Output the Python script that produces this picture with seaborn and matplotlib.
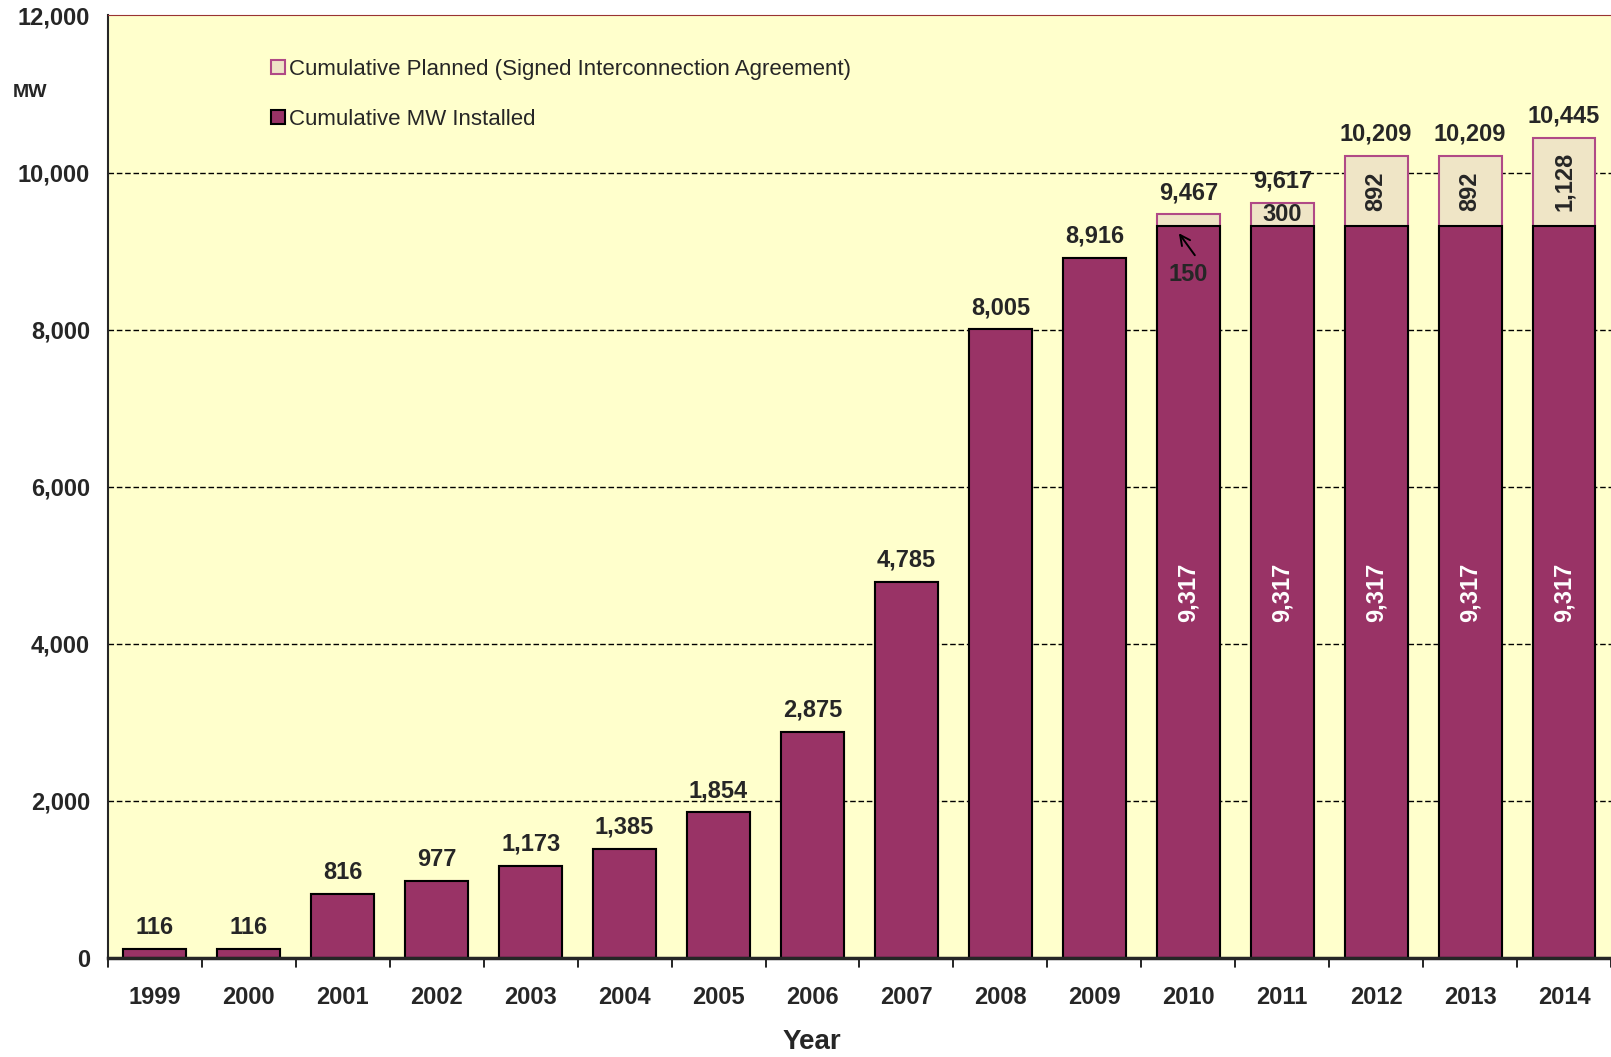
import matplotlib
matplotlib.use("Agg")
import matplotlib.pyplot as plt
import numpy as np
import pandas as pd
import seaborn as sns

years = ["1999", "2000", "2001", "2002", "2003", "2004", "2005", "2006",
         "2007", "2008", "2009", "2010", "2011", "2012", "2013", "2014"]
installed = [116, 116, 816, 977, 1173, 1385, 1854, 2875,
             4785, 8005, 8916, 9317, 9317, 9317, 9317, 9317]
planned = [0, 0, 0, 0, 0, 0, 0, 0,
           0, 0, 0, 150, 300, 892, 892, 1128]

sns.set_style("white")
plt.rcParams["font.family"] = ["Liberation Sans", "DejaVu Sans"]

df = pd.DataFrame({"year": years, "installed": installed, "planned": planned})
df["total"] = df["installed"] + df["planned"]

fig = plt.figure(figsize=(16.11, 10.57), dpi=100)
ax = fig.add_axes([0.067, 0.0937, 0.933, 0.8917])
ax.set_facecolor("#FFFFCC")

# totals drawn first, installed on top -> stacked look
sns.barplot(data=df, x="year", y="total", color="#EFE5C6", edgecolor="#B04A86",
            linewidth=1.5, width=0.67, saturation=1, ax=ax, zorder=3)
sns.barplot(data=df, x="year", y="installed", color="#993366", edgecolor="black",
            linewidth=1.5, width=0.67, saturation=1, ax=ax, zorder=4)

ax.set_ylim(0, 12000)
ax.set_xlim(-0.5, 15.5)
ax.set_yticks(np.arange(0, 12001, 2000))
ax.set_yticklabels([f"{v:,}" for v in range(0, 12001, 2000)],
                   fontsize=17, fontweight="bold")
ax.tick_params(axis="y", direction="out", length=8, width=1.5, pad=5)
ax.set_xticks(range(len(years)))
ax.set_xticklabels(years, fontsize=17, fontweight="bold")
ax.tick_params(axis="x", length=0, pad=20)
for b in np.arange(-0.5, 16, 1):
    ax.plot([b, b], [0, -120], color="black", lw=1.2, clip_on=False, zorder=5)

for v in range(2000, 12000, 2000):
    ax.axhline(v, color="black", ls=(0, (4, 2)), lw=1, zorder=1)

ax.spines["right"].set_visible(False)
ax.spines["top"].set_color("#993333")
ax.spines["left"].set_linewidth(1.5)
ax.spines["bottom"].set_linewidth(2.5)
ax.spines["bottom"].set_zorder(6)

ax.set_xlabel("Year", fontsize=20, fontweight="bold", labelpad=14)
ax.xaxis.set_label_coords(0.468, -0.075)
ax.set_ylabel("")
fig.text(0.008, 0.908, "MW", fontsize=14, fontweight="bold")

# value labels
for i, (inst, pl, tot) in enumerate(zip(installed, planned, df["total"])):
    ax.text(i, tot + 130, f"{tot:,}", ha="center", va="bottom",
            fontsize=17, fontweight="bold", zorder=7)
    if pl > 0:
        ax.text(i, 4650, f"{inst:,}", ha="center", va="center", rotation=90,
                color="white", fontsize=17, fontweight="bold", zorder=7)
        if pl >= 800:
            ax.text(i, inst + pl / 2, f"{pl:,}", ha="center", va="center",
                    rotation=90, fontsize=17, fontweight="bold", zorder=7)
        elif pl >= 300:
            ax.text(i, inst + pl / 2, f"{pl:,}", ha="center", va="center",
                    fontsize=17, fontweight="bold", zorder=7)
        else:
            # small segment: label sits inside the installed bar with an arrow
            ax.text(i, inst - 620, f"{pl:,}", ha="center", va="center",
                    fontsize=17, fontweight="bold", zorder=7)
            ax.annotate("", xy=(i - 0.1, inst - 90),
                        xytext=(i + 0.07, inst - 370), zorder=7,
                        arrowprops=dict(arrowstyle="->", color="black", lw=1.4,
                                        shrinkA=0, shrinkB=0,
                                        mutation_scale=18))

# legend
h1 = plt.Line2D([], [], marker="s", ls="", markersize=10,
                markerfacecolor="#EFE5C6", markeredgecolor="#B04A86", markeredgewidth=1.5)
h2 = plt.Line2D([], [], marker="s", ls="", markersize=10,
                markerfacecolor="#993366", markeredgecolor="black", markeredgewidth=1.5)
ax.legend([h1, h2],
          ["Cumulative Planned (Signed Interconnection Agreement)",
           "Cumulative MW Installed"],
          loc="upper left", bbox_to_anchor=(0.094, 0.975), frameon=False,
          fontsize=16, handletextpad=0.1, labelspacing=1.3, handlelength=0.8)

plt.savefig("out.png", dpi=100)
